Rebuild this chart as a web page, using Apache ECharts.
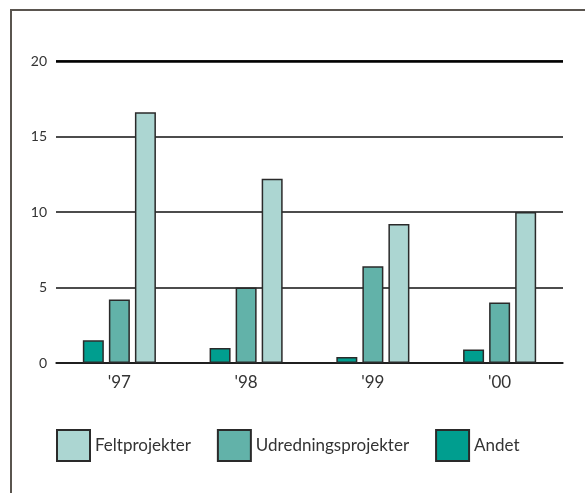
<!DOCTYPE html>
<html>
<head>
<meta charset="utf-8">
<script src="https://cdn.jsdelivr.net/npm/echarts@6/dist/echarts.min.js"></script>
<style>
  html, body { margin: 0; padding: 0; background: #fff; }
  #frame {
    position: absolute; left: 10px; top: 9px; width: 600px; height: 500px;
    border-top: 2px solid #5a554f; border-left: 2px solid #5a554f;
  }
  #chart { position: absolute; left: 0; top: 0; width: 585px; height: 493px; }
</style>
</head>
<body>
<div id="frame"></div>
<div id="chart"></div>
<script>
// år
const years = ["'97", "'98", "'99", "'00"]
// antal projekter pr. type
const andet = [1.5, 1.0, 0.4, 0.9]
const udredning = [4.2, 5.0, 6.4, 4.0]
const felt = [16.6, 12.2, 9.2, 10.0]
// y-akse
const yTicks = [0, 5, 10, 15, 20]

const borderColor = '#2a2a2a'

const myChart = echarts.init(document.getElementById('chart'))

myChart.setOption({
  animation: false,
  textStyle: { fontFamily: 'Lato' },
  legend: {
    left: 56,
    top: 429,
    padding: 0,
    itemWidth: 33,
    itemHeight: 31,
    itemGap: 26,
    icon: 'rect',
    textStyle: { fontSize: 17, color: '#333', fontFamily: 'Lato' },
    data: ['Feltprojekter', 'Udredningsprojekter', 'Andet']
  },
  grid: {
    left: 56,
    right: 22,
    top: 61,
    bottom: 130
  },
  xAxis: {
    type: 'category',
    data: years,
    axisLine: { lineStyle: { color: '#111', width: 1.5 } },
    axisTick: { show: false },
    axisLabel: { color: '#333', fontSize: 17, margin: 11 }
  },
  yAxis: {
    type: 'value',
    min: yTicks[0],
    max: yTicks[yTicks.length - 1],
    interval: 5,
    axisLabel: { color: '#333', fontSize: 14, margin: 9 },
    splitLine: { lineStyle: { color: '#111', width: 1.5 } }
  },
  series: [
    {
      name: 'Andet',
      type: 'bar',
      barWidth: 21,
      barGap: '24%',
      itemStyle: { color: '#009e8f', borderColor: borderColor, borderWidth: 1.5 },
      data: andet,
      markLine: {
        symbol: 'none',
        silent: true,
        label: { show: false },
        lineStyle: { color: '#000', width: 2.5, type: 'solid' },
        data: [{ yAxis: yTicks[yTicks.length - 1] }]
      }
    },
    {
      name: 'Udredningsprojekter',
      type: 'bar',
      barWidth: 21,
      barGap: '24%',
      itemStyle: { color: '#62b2a9', borderColor: borderColor, borderWidth: 1.5 },
      data: udredning
    },
    {
      name: 'Feltprojekter',
      type: 'bar',
      barWidth: 21,
      barGap: '24%',
      itemStyle: { color: '#acd6d2', borderColor: borderColor, borderWidth: 1.5 },
      data: felt
    }
  ]
})
</script>
</body>
</html>
